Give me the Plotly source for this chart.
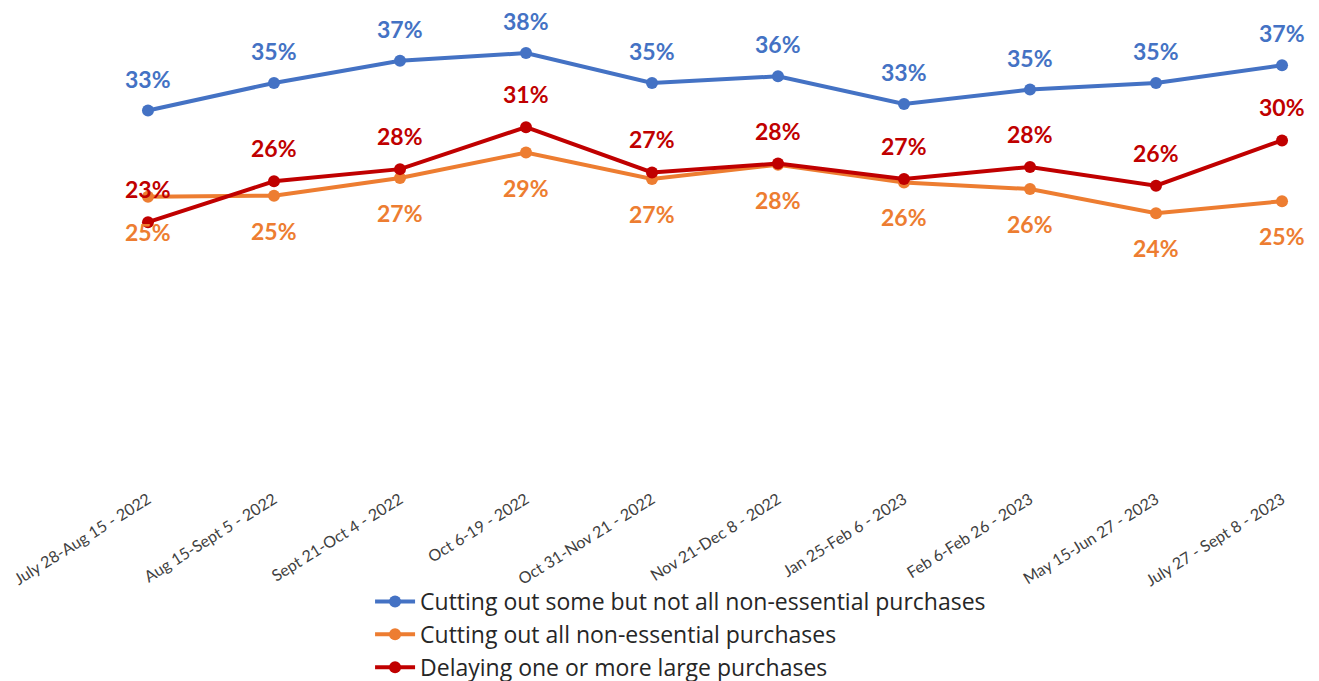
import plotly.graph_objects as go

# 时间段（横轴分类）
periods = [
    'July 28-Aug 15 - 2022', 'Aug 15-Sept 5 - 2022', 'Sept 21-Oct 4 - 2022',
    'Oct 6-19 - 2022', 'Oct 31-Nov 21 - 2022', 'Nov 21-Dec 8 - 2022',
    'Jan 25-Feb 6 - 2023', 'Feb 6-Feb 26 - 2023', 'May 15-Jun 27 - 2023',
    'July 27 - Sept 8 - 2023',
]

# 各系列数值（%）
some_cut = [32.8, 35.3, 37.3, 38.0, 35.3, 35.9, 33.4, 34.7, 35.3, 36.9]
all_cut = [25.0, 25.1, 26.7, 29.0, 26.6, 27.9, 26.3, 25.7, 23.5, 24.6]
delaying = [22.7, 26.4, 27.5, 31.3, 27.2, 28.0, 26.6, 27.7, 26.0, 30.1]

series = [
    ('Cutting out some but not all non-essential purchases', some_cut, '#4472C4', 32),
    ('Cutting out all non-essential purchases', all_cut, '#ED7D31', -35),
    ('Delaying one or more large purchases', delaying, '#C00000', 33),
]

fig = go.Figure()

for name, vals, color, shift in series:
    fig.add_trace(go.Scatter(
        x=periods, y=vals, name=name, mode='lines+markers',
        line=dict(color=color, width=4),
        marker=dict(color=color, size=12),
        cliponaxis=False,
    ))
    # 数据标签
    for p, v in zip(periods, vals):
        fig.add_annotation(
            x=p, y=v, text=f'{v:.0f}%', showarrow=False, yshift=shift,
            font=dict(family='Lato', size=23, color=color, weight='bold'),
        )

fig.update_layout(
    width=1319, height=681,
    margin=dict(l=0, r=0, t=23, b=206),
    plot_bgcolor='white', paper_bgcolor='white',
    showlegend=True,
    legend=dict(
        x=0.2745, y=-0.242, xanchor='left', yanchor='top',
        bgcolor='rgba(0,0,0,0)',
        font=dict(family='Open Sans', size=23, color='#262626'),
        tracegroupgap=0, itemwidth=40,
    ),
    xaxis=dict(
        range=[-1.111, 9.357], showgrid=False, zeroline=False, showline=False,
        tickangle=-32, ticks='outside', ticklen=10, tickcolor='white',
        tickfont=dict(family='Lato', size=16, color='#404040'),
    ),
    yaxis=dict(range=[0, 40], visible=False),
)

fig.write_html('out.html')
